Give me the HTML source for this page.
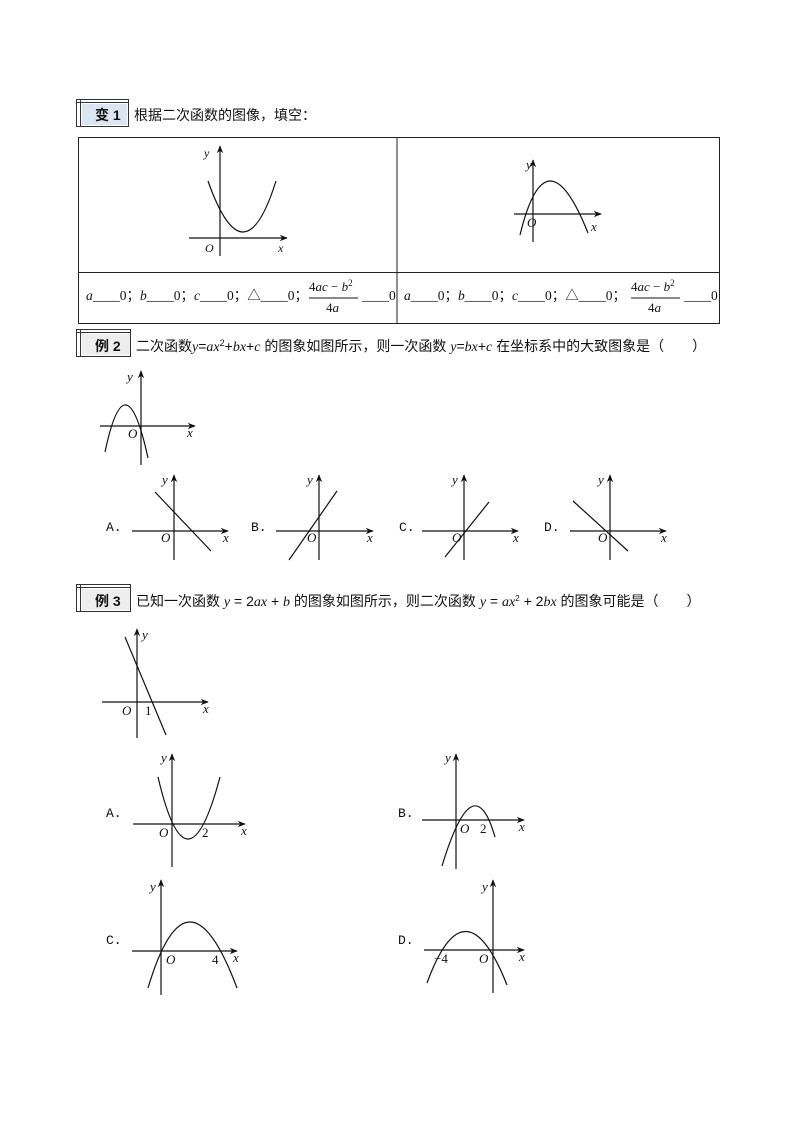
<!DOCTYPE html>
<html><head><meta charset="utf-8"><style>
html,body{margin:0;padding:0;background:#fff;}
svg{display:block;}
.cn{font-family:"Liberation Sans","Noto Sans CJK SC",sans-serif;font-size:14px;fill:#111;}
.it{font-family:"Liberation Serif",serif;font-style:italic;fill:#111;}
.rm{font-family:"Liberation Serif",serif;fill:#111;}
.mono{font-family:"Liberation Mono",monospace;font-size:13px;fill:#111;}
.ax{stroke:#111;stroke-width:1.2;fill:none;}
.cv{stroke:#111;stroke-width:1.2;fill:none;}
</style></head><body>
<svg width="794" height="1123" viewBox="0 0 794 1123" xmlns="http://www.w3.org/2000/svg">
<defs>
<marker id="ar" viewBox="0 0 10 10" refX="9" refY="5" markerWidth="8" markerHeight="8" orient="auto" markerUnits="userSpaceOnUse">
<path d="M0,1 L10,5 L0,9 L3,5 Z" fill="#111"/></marker>
</defs>

<!-- 变1 header -->
<rect x="82" y="104" width="45" height="21" fill="#dce6f2"/>
<rect x="76.5" y="99.5" width="52" height="27" fill="none" stroke="#333"/>
<line x1="76" y1="102.5" x2="129" y2="102.5" stroke="#333"/>
<line x1="80.5" y1="99" x2="80.5" y2="127" stroke="#333"/>
<text x="95" y="120" class="cn" font-size="12.5" font-weight="bold">变 1</text>
<text x="134" y="120" class="cn">根据二次函数的图像，填空：</text>

<!-- table -->
<rect x="78.5" y="137.5" width="641" height="186" fill="none" stroke="#222"/>
<line x1="397" y1="137" x2="397" y2="324" stroke="#222"/>
<line x1="78" y1="272.5" x2="720" y2="272.5" stroke="#222"/>

<!-- graph 1 -->
<line x1="189" y1="238" x2="287" y2="238" class="ax" marker-end="url(#ar)"/>
<line x1="220" y1="256" x2="220" y2="146" class="ax" marker-end="url(#ar)"/>
<path d="M208,181 Q244,283 276,181" class="cv" stroke="#555"/>
<text x="205" y="252" class="it" font-size="12">O</text>
<text x="278" y="252" class="it" font-size="12">x</text>
<text x="204" y="157" class="it" font-size="12">y</text>

<!-- graph 2 -->
<line x1="514" y1="214" x2="601" y2="214" class="ax" marker-end="url(#ar)"/>
<line x1="533" y1="242" x2="533" y2="160" class="ax" marker-end="url(#ar)"/>
<path d="M520,235 Q546,128 588,233" class="cv"/>
<text x="527" y="227" class="it" font-size="13">O</text>
<text x="591" y="231" class="it" font-size="13">x</text>
<text x="526" y="169" class="it" font-size="13">y</text>

<!-- bottom row texts -->
<g font-size="13.5">
<text x="86" y="300" class="rm"><tspan class="it">a</tspan>____0；<tspan class="it">b</tspan>____0；<tspan class="it">c</tspan>____0；△____0；</text>
<text x="309" y="291" class="rm" font-size="13">4<tspan class="it">ac</tspan> − <tspan class="it">b</tspan><tspan dy="-5" font-size="9">2</tspan></text>
<line x1="309" y1="298" x2="358" y2="298" stroke="#111"/>
<text x="326" y="312" class="rm" font-size="13">4<tspan class="it">a</tspan></text>
<text x="362" y="300" class="rm">____0</text>
<text x="404" y="300" class="rm"><tspan class="it">a</tspan>____0；<tspan class="it">b</tspan>____0；<tspan class="it">c</tspan>____0；△____0；</text>
<text x="631" y="291" class="rm" font-size="13">4<tspan class="it">ac</tspan> − <tspan class="it">b</tspan><tspan dy="-5" font-size="9">2</tspan></text>
<line x1="631" y1="298" x2="680" y2="298" stroke="#111"/>
<text x="648" y="312" class="rm" font-size="13">4<tspan class="it">a</tspan></text>
<text x="684" y="300" class="rm">____0</text>
</g>

<!-- 例2 header -->
<rect x="82" y="334" width="48" height="21" fill="#eeeeee"/>
<rect x="76.5" y="329.5" width="54" height="27" fill="none" stroke="#333"/>
<line x1="76" y1="332.5" x2="131" y2="332.5" stroke="#333"/>
<line x1="80.5" y1="329" x2="80.5" y2="357" stroke="#333"/>
<text x="95" y="351" class="cn" font-size="12.5" font-weight="bold">例 2</text>
<text x="136" y="351" class="cn">二次函数<tspan class="it">y</tspan>=<tspan class="it">ax</tspan><tspan dy="-5" font-size="9">2</tspan><tspan dy="5">+</tspan><tspan class="it">bx</tspan>+<tspan class="it">c</tspan> 的图象如图所示，则一次函数 <tspan class="it">y</tspan>=<tspan class="it">bx</tspan>+<tspan class="it">c</tspan> 在坐标系中的大致图象是（　　）</text>

<!-- ex2 small graph -->
<line x1="100" y1="426" x2="195" y2="426" class="ax" marker-end="url(#ar)"/>
<line x1="141" y1="465" x2="141" y2="371" class="ax" marker-end="url(#ar)"/>
<path d="M105,452 Q125.5,355 148,458" class="cv"/>
<text x="128" y="438" class="it" font-size="13">O</text>
<text x="187" y="437" class="it" font-size="13">x</text>
<text x="127" y="381" class="it" font-size="13">y</text>

<!-- options ex2 -->
<g>
<text x="106" y="531" class="mono">A.</text>
<line x1="132" y1="531" x2="228" y2="531" class="ax" marker-end="url(#ar)"/>
<line x1="174" y1="560" x2="174" y2="475" class="ax" marker-end="url(#ar)"/>
<line x1="155" y1="492" x2="211" y2="551" class="cv"/>
<text x="161" y="542" class="it" font-size="13">O</text>
<text x="223" y="542" class="it" font-size="13">x</text>
<text x="162" y="484" class="it" font-size="13">y</text>

<text x="251" y="531" class="mono">B.</text>
<line x1="276" y1="531" x2="373" y2="531" class="ax" marker-end="url(#ar)"/>
<line x1="319" y1="560" x2="319" y2="475" class="ax" marker-end="url(#ar)"/>
<line x1="337" y1="491" x2="289" y2="560" class="cv"/>
<text x="307" y="542" class="it" font-size="13">O</text>
<text x="367" y="542" class="it" font-size="13">x</text>
<text x="307" y="484" class="it" font-size="13">y</text>

<text x="399" y="531" class="mono">C.</text>
<line x1="422" y1="531" x2="518" y2="531" class="ax" marker-end="url(#ar)"/>
<line x1="464" y1="560" x2="464" y2="475" class="ax" marker-end="url(#ar)"/>
<line x1="489" y1="502" x2="445" y2="557" class="cv"/>
<text x="452" y="542" class="it" font-size="13">O</text>
<text x="513" y="542" class="it" font-size="13">x</text>
<text x="452" y="484" class="it" font-size="13">y</text>

<text x="544" y="531" class="mono">D.</text>
<line x1="570" y1="531" x2="666" y2="531" class="ax" marker-end="url(#ar)"/>
<line x1="610" y1="560" x2="610" y2="475" class="ax" marker-end="url(#ar)"/>
<line x1="573" y1="501" x2="628" y2="551" class="cv"/>
<text x="598" y="542" class="it" font-size="13">O</text>
<text x="661" y="542" class="it" font-size="13">x</text>
<text x="598" y="484" class="it" font-size="13">y</text>
</g>

<!-- 例3 header -->
<rect x="82" y="589" width="48" height="21" fill="#eeeeee"/>
<rect x="76.5" y="584.5" width="54" height="27" fill="none" stroke="#333"/>
<line x1="76" y1="587.5" x2="131" y2="587.5" stroke="#333"/>
<line x1="80.5" y1="584" x2="80.5" y2="612" stroke="#333"/>
<text x="95" y="606" class="cn" font-size="12.5" font-weight="bold">例 3</text>
<text x="136" y="606" class="cn">已知一次函数 <tspan class="it">y</tspan> = 2<tspan class="it">ax</tspan> + <tspan class="it">b</tspan> 的图象如图所示，则二次函数 <tspan class="it">y</tspan> = <tspan class="it">ax</tspan><tspan dy="-5" font-size="8">2</tspan><tspan dy="5"> + 2</tspan><tspan class="it">bx</tspan> 的图象可能是（　　）</text>

<!-- ex3 linear graph -->
<line x1="102" y1="702" x2="208" y2="702" class="ax" marker-end="url(#ar)"/>
<line x1="137" y1="738" x2="137" y2="629" class="ax" marker-end="url(#ar)"/>
<line x1="125" y1="637" x2="166" y2="735" class="cv"/>
<text x="122" y="715" class="it" font-size="13">O</text>
<text x="145" y="715" class="rm" font-size="13">1</text>
<text x="203" y="713" class="it" font-size="13">x</text>
<text x="142" y="639" class="it" font-size="13">y</text>

<!-- ex3 options -->
<text x="106" y="817" class="mono">A.</text>
<line x1="133" y1="824" x2="245" y2="824" class="ax" marker-end="url(#ar)"/>
<line x1="172" y1="867" x2="172" y2="754" class="ax" marker-end="url(#ar)"/>
<path d="M158,777 Q187,901 220,777" class="cv"/>
<text x="159" y="837" class="it" font-size="13">O</text>
<text x="202" y="837" class="rm" font-size="13">2</text>
<text x="241" y="835" class="it" font-size="13">x</text>
<text x="161" y="762" class="it" font-size="13">y</text>

<text x="398" y="817" class="mono">B.</text>
<line x1="422" y1="820" x2="524" y2="820" class="ax" marker-end="url(#ar)"/>
<line x1="456" y1="869" x2="456" y2="754" class="ax" marker-end="url(#ar)"/>
<path d="M442,866 Q473.5,762.5 495,837" class="cv"/>
<text x="460" y="833" class="it" font-size="13">O</text>
<text x="480" y="833" class="rm" font-size="13">2</text>
<text x="519" y="831" class="it" font-size="13">x</text>
<text x="445" y="762" class="it" font-size="13">y</text>

<text x="106" y="944" class="mono">C.</text>
<line x1="132" y1="951" x2="237" y2="951" class="ax" marker-end="url(#ar)"/>
<line x1="161" y1="995" x2="161" y2="880" class="ax" marker-end="url(#ar)"/>
<path d="M148,988 Q187.5,856 237,988" class="cv"/>
<text x="166" y="964" class="it" font-size="13">O</text>
<text x="212" y="964" class="rm" font-size="13">4</text>
<text x="233" y="962" class="it" font-size="13">x</text>
<text x="150" y="891" class="it" font-size="13">y</text>

<text x="398" y="944" class="mono">D.</text>
<line x1="424" y1="950" x2="524" y2="950" class="ax" marker-end="url(#ar)"/>
<line x1="493" y1="993" x2="493" y2="880" class="ax" marker-end="url(#ar)"/>
<path d="M427,983 Q465,879 507,985" class="cv"/>
<text x="434" y="963" class="rm" font-size="13">−4</text>
<text x="479" y="963" class="it" font-size="13">O</text>
<text x="519" y="961" class="it" font-size="13">x</text>
<text x="482" y="891" class="it" font-size="13">y</text>
</svg>
</body></html>
